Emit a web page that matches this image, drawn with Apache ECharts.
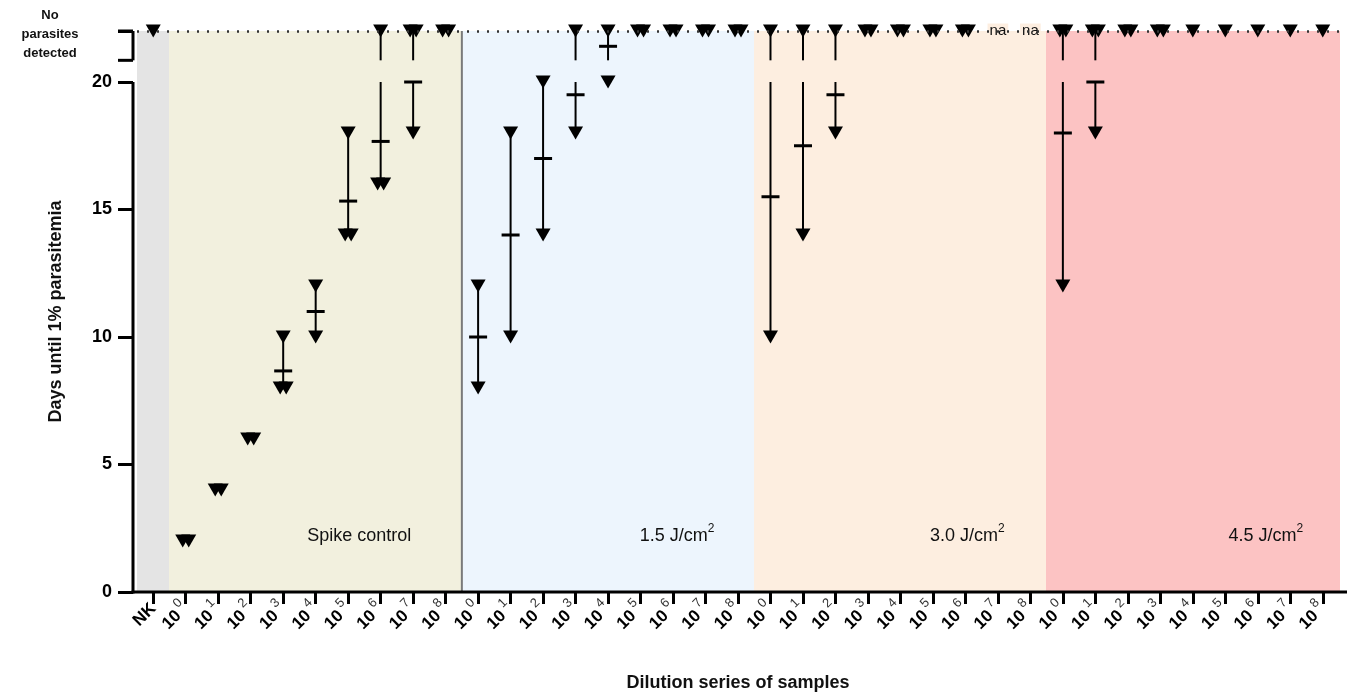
<!DOCTYPE html>
<html>
<head>
<meta charset="utf-8">
<script src="https://cdn.jsdelivr.net/npm/echarts@6/dist/echarts.min.js"></script>
<style>
  html, body { margin: 0; padding: 0; background: #fff; }
  #chart { width: 1351px; height: 697px; }
</style>
</head>
<body>
<div id="chart"></div>
<script>
// groups along the x axis
const groupNames = ['NK', 'Spike control', '1.5 J/cm2', '3.0 J/cm2', '4.5 J/cm2']
const groupColors = ['#e4e4e4', '#f2f0de', '#edf5fd', '#fdeee0', '#fcc3c3']
const exponents = ['0', '1', '2', '3', '4', '5', '6', '7', '8']

// days until 1% parasitemia per mouse, 22 = no parasites detected
const nkValues = [[22]]
const spikeValues = [[2, 2], [4, 4], [6, 6], [10, 8, 8], [12, 10], [18, 14, 14], [22, 16, 16], [22, 22, 18], [22, 22]]
const spikeMeans = [null, null, null, 8.67, 11, 15.33, 17.67, 20, null]
const j15Values = [[12, 8], [18, 10], [20, 14], [22, 18], [22, 20], [22, 22], [22, 22], [22, 22], [22, 22]]
const j15Means = [10, 14, 17, 19.5, 21.4, null, null, null, null]
const j30Values = [[22, 10], [22, 14], [22, 18], [22, 22], [22, 22], [22, 22], [22, 22], [], []]
const j30Means = [15.5, 17.5, 19.5, null, null, null, null, null, null]
const j45Values = [[22, 22, 12], [22, 22, 18], [22, 22], [22, 22], [22], [22], [22], [22], [22]]
const j45Means = [18, 20, null, null, null, null, null, null, null]

const NPD = 22        // "no parasites detected" level
const gapTop = 20.85  // axis break
const gapBottom = 20

// build the flat category list
const categories = ['NK']
const catGroup = [0]
for (let g = 1; g < groupNames.length; g++) {
  exponents.forEach(e => {
    categories.push(g + '|' + e)
    catGroup.push(g)
  })
}
const allValues = [...nkValues, ...spikeValues, ...j15Values, ...j30Values, ...j45Values]
const allMeans = [null, ...spikeMeans, ...j15Means, ...j30Means, ...j45Means]

// background bands, one per category
const bandData = categories.map((c, i) => [i, catGroup[i]])

// individual points, duplicates nudged sideways
const pointData = []
allValues.forEach((vals, i) => {
  const counts = {}
  vals.forEach(v => { counts[v] = (counts[v] || 0) + 1 })
  const seen = {}
  vals.forEach(v => {
    const n = counts[v]
    const k = seen[v] || 0
    seen[v] = k + 1
    pointData.push({ value: [i, v], symbolOffset: [(k - (n - 1) / 2) * 6, 0] })
  })
})

// range + mean
const barData = []
allValues.forEach((vals, i) => {
  if (vals.length < 2) return
  const lo = Math.min(...vals)
  const hi = Math.max(...vals)
  if (lo === hi && allMeans[i] == null) return
  barData.push([i, lo, hi, allMeans[i] == null ? '-' : allMeans[i]])
})

const naData = []
allValues.forEach((vals, i) => { if (vals.length === 0) naData.push([i, NPD]) })

// group label anchors (category index, pixel nudge)
const labelAnchors = [[6, 11], [16, 4], [25, 2], [34, 8]]
const groupLabelData = labelAnchors.map((a, k) => ({ value: [a[0], 2.2], name: groupNames[k + 1], label: { offset: [a[1], 0] } }))

const chart = echarts.init(document.getElementById('chart'))
const FONT = 'Liberation Sans, Arial, sans-serif'

chart.setOption({
  animation: false,
  textStyle: { fontFamily: FONT },
  grid: { left: 137, right: 12, top: 31, bottom: 105 },
  graphic: [{
    type: 'text',
    x: 50,
    y: 34,
    style: {
      text: 'No\nparasites\ndetected',
      font: 'bold 13px ' + FONT,
      fill: '#111',
      align: 'center',
      verticalAlign: 'middle',
      lineHeight: 19
    }
  }],
  xAxis: {
    type: 'category',
    data: categories,
    boundaryGap: true,
    axisLine: { show: false },
    axisTick: { show: true, alignWithLabel: true, length: 12, lineStyle: { color: '#000', width: 3 } },
    axisLabel: {
      interval: 0,
      rotate: 45,
      margin: 14,
      formatter: v => {
        const e = v.split('|')[1]
        return e === undefined ? '{nk|NK}' : '{b|10}{s|' + e + '}'
      },
      rich: {
        nk: { fontSize: 17, fontWeight: 'bold', color: '#000', fontFamily: FONT },
        b: { fontSize: 17, fontWeight: 'bold', color: '#000', fontFamily: FONT, lineHeight: 28 },
        s: { fontSize: 13, color: '#333', fontFamily: FONT, verticalAlign: 'top', lineHeight: 13, padding: [0, 0, 0, 3] }
      }
    },
    name: 'Dilution series of samples',
    nameLocation: 'middle',
    nameGap: 82,
    nameTextStyle: { fontSize: 18, fontWeight: 'bold', color: '#111', fontFamily: FONT }
  },
  yAxis: {
    type: 'value',
    min: 0,
    max: NPD,
    interval: 5,
    offset: 4,
    splitLine: { show: false },
    axisLine: { show: false },
    axisTick: { show: true, length: 15, lineStyle: { color: '#000', width: 3 } },
    axisLabel: {
      fontSize: 18,
      fontWeight: 'bold',
      color: '#000',
      margin: 21,
      fontFamily: FONT,
      formatter: v => (v > gapBottom ? '' : String(v))
    },
    name: 'Days until 1% parasitemia',
    nameLocation: 'middle',
    nameGap: 68,
    nameTextStyle: { fontSize: 18, fontWeight: 'bold', color: '#111', fontFamily: FONT }
  },
  series: [
    {
      name: 'bands',
      type: 'custom',
      data: bandData,
      silent: true,
      z: 0,
      renderItem: (params, api) => {
        const i = api.value(0)
        const color = groupColors[api.value(1)]
        const w = api.size([1, 0])[0]
        const c = api.coord([i, NPD])
        const y0 = api.coord([i, 0])[1]
        const x1 = Math.floor(c[0] - w / 2)
        const x2 = Math.ceil(c[0] + w / 2) + 1
        return {
          type: 'rect',
          shape: { x: x1, y: c[1], width: x2 - x1, height: y0 - c[1] },
          style: { fill: color }
        }
      },
      markLine: {
        silent: true,
        symbol: 'none',
        label: { show: false },
        lineStyle: { color: '#333', width: 2.5, type: [2, 8], opacity: 1 },
        data: [{ yAxis: NPD }]
      }
    },
    {
      name: 'frame',
      type: 'custom',
      silent: true,
      z: 5,
      data: [[0]],
      renderItem: (params, api) => {
        const cs = params.coordSys
        const x0 = cs.x - 4
        const y0 = api.coord([0, 0])[1]
        const y20 = api.coord([0, gapBottom])[1]
        const yTop = api.coord([0, NPD])[1]
        const yBreak = api.coord([0, gapTop])[1]
        const xDiv = (api.coord([9, 0])[0] + api.coord([10, 0])[0]) / 2
        const black = { stroke: '#000', lineWidth: 3 }
        return {
          type: 'group',
          children: [
            { type: 'line', shape: { x1: xDiv, y1: y0, x2: xDiv, y2: yTop }, style: { stroke: '#7a7a7a', lineWidth: 2 } },
            { type: 'line', shape: { x1: x0, y1: y0 + 1.5, x2: x0, y2: y20 }, style: black },
            { type: 'line', shape: { x1: x0, y1: yBreak, x2: x0, y2: yTop }, style: black },
            { type: 'line', shape: { x1: x0 - 15, y1: yBreak, x2: x0, y2: yBreak }, style: black },
            { type: 'line', shape: { x1: x0 - 15, y1: yTop, x2: x0, y2: yTop }, style: black },
            { type: 'line', shape: { x1: x0 - 1.5, y1: y0, x2: cs.x + cs.width + 8, y2: y0 }, style: black }
          ]
        }
      }
    },
    {
      name: 'range',
      type: 'custom',
      silent: true,
      z: 3,
      data: barData,
      renderItem: (params, api) => {
        const i = api.value(0)
        const lo = api.value(1)
        const hi = api.value(2)
        const mean = api.value(3)
        const children = []
        const seg = (a, b) => {
          const p1 = api.coord([i, a])
          const p2 = api.coord([i, b])
          children.push({ type: 'line', shape: { x1: p1[0], y1: p1[1], x2: p2[0], y2: p2[1] }, style: { stroke: '#000', lineWidth: 2 } })
        }
        if (hi > gapTop && lo < gapBottom) {
          seg(hi, gapTop)
          seg(gapBottom, lo)
        } else if (hi > gapTop) {
          seg(hi, gapTop)
        } else {
          seg(hi, lo)
        }
        if (!isNaN(mean)) {
          const m = api.coord([i, mean])
          children.push({ type: 'line', shape: { x1: m[0] - 9, y1: m[1], x2: m[0] + 9, y2: m[1] }, style: { stroke: '#000', lineWidth: 3 } })
        }
        return { type: 'group', children }
      }
    },
    {
      name: 'mice',
      type: 'scatter',
      data: pointData,
      symbol: 'triangle',
      symbolRotate: 180,
      symbolSize: [15, 13],
      itemStyle: { color: '#000', opacity: 1 },
      silent: true,
      z: 4
    },
    {
      name: 'na',
      type: 'scatter',
      data: naData,
      symbolSize: 1,
      itemStyle: { color: 'rgba(0,0,0,0)', opacity: 1 },
      silent: true,
      z: 4,
      label: {
        show: true,
        position: 'inside',
        formatter: 'na',
        fontSize: 15,
        color: '#111',
        fontFamily: FONT,
        backgroundColor: groupColors[3],
        padding: [0, 2]
      }
    },
    {
      name: 'groups',
      type: 'scatter',
      data: groupLabelData,
      symbolSize: 1,
      itemStyle: { color: 'rgba(0,0,0,0)', opacity: 1 },
      silent: true,
      z: 4,
      label: {
        show: true,
        position: 'inside',
        formatter: p => {
          const parts = p.name.split('cm2')
          return parts.length > 1 ? '{t|' + parts[0] + 'cm}{s|2}' : '{t|' + p.name + '}'
        },
        rich: {
          t: { fontSize: 18, color: '#111', fontFamily: FONT, lineHeight: 26 },
          s: { fontSize: 12, color: '#111', fontFamily: FONT, verticalAlign: 'top', lineHeight: 14 }
        }
      }
    }
  ]
})
</script>
</body>
</html>
